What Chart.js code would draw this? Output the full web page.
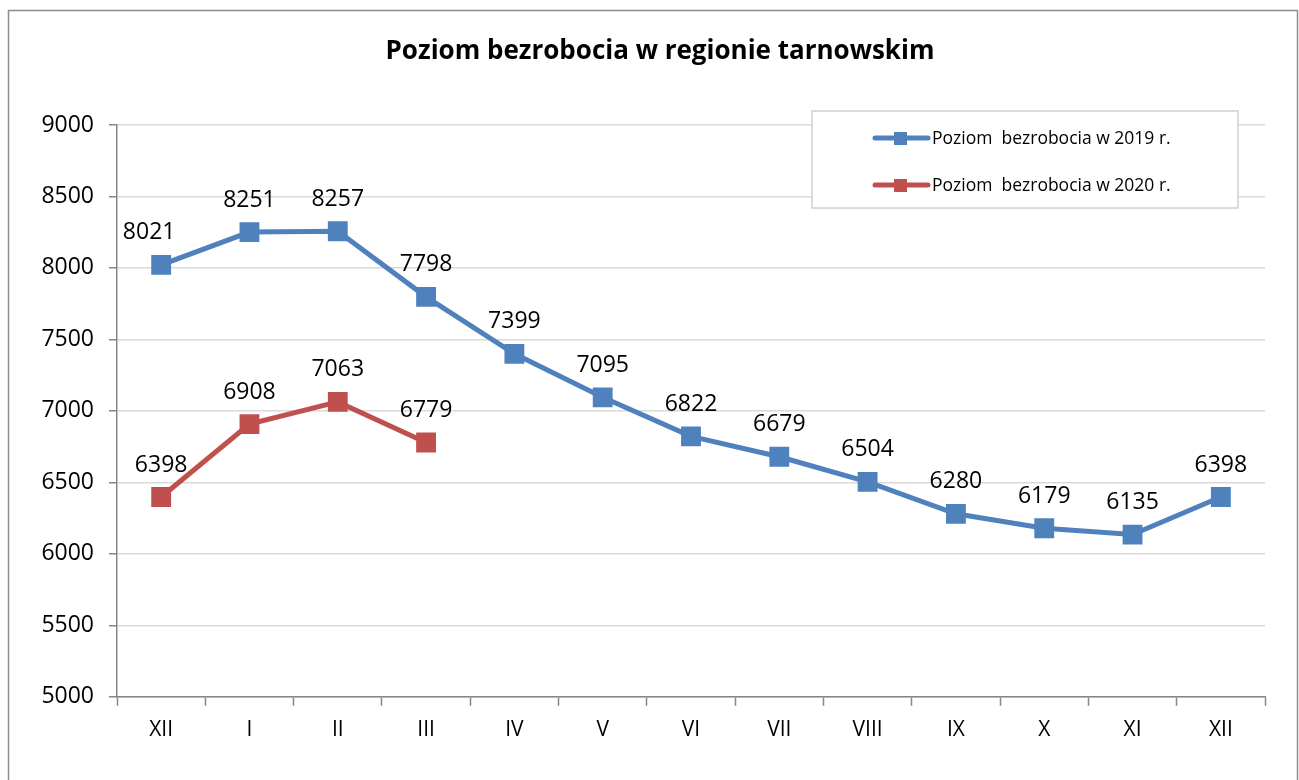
<!DOCTYPE html>
<html>
<head>
<meta charset="utf-8">
<script src="https://cdn.jsdelivr.net/npm/chart.js@4/dist/chart.umd.min.js"></script>
<style>
  html, body { margin: 0; padding: 0; background: #fff; }
  #wrap { width: 1299px; height: 780px; position: relative; }
</style>
</head>
<body>
<div id="wrap"><canvas id="chart"></canvas></div>
<script>
const months = ['XII', 'I', 'II', 'III', 'IV', 'V', 'VI', 'VII', 'VIII', 'IX', 'X', 'XI', 'XII'];
const level2019 = [8021, 8251, 8257, 7798, 7399, 7095, 6822, 6679, 6504, 6280, 6179, 6135, 6398];
const level2020 = [6398, 6908, 7063, 6779, null, null, null, null, null, null, null, null, null];
const seriesNames = ['Poziom  bezrobocia w 2019 r.', 'Poziom  bezrobocia w 2020 r.'];
const chartTitle = 'Poziom bezrobocia w regionie tarnowskim';
const blue = '#4F81BD';
const red = '#C0504D';
const font = "'Open Sans', 'Noto Sans', sans-serif";

// outer frame, title, value labels and the boxed legend
const extras = {
  id: 'extras',
  beforeDraw(chart) {
    const c = chart.ctx;
    c.save();
    c.fillStyle = '#fff';
    c.fillRect(0, 0, chart.width, chart.height);
    c.strokeStyle = '#8c8c8c';
    c.lineWidth = 1.5;
    c.strokeRect(8.5, 10.5, 1289, 775);
    c.fillStyle = '#000';
    c.font = 'bold 26px ' + font;
    c.textAlign = 'center';
    c.textBaseline = 'middle';
    c.fillText(chartTitle, 660, 52);
    c.restore();
  },
  afterDatasetsDraw(chart) {
    const c = chart.ctx;
    c.save();
    c.font = '23px ' + font;
    c.fillStyle = '#000';
    c.textAlign = 'center';
    c.textBaseline = 'middle';
    chart.data.datasets.forEach((ds, i) => {
      const meta = chart.getDatasetMeta(i);
      meta.data.forEach((pt, j) => {
        const v = ds.data[j];
        if (v == null) return;
        let dx = 0;
        if (i === 0 && j === 0) dx = -12;
        c.fillText(String(v), pt.x + dx, pt.y - 32);
      });
    });

    // legend box
    const bx = 812, by = 111, bw = 426, bh = 97;
    c.fillStyle = '#fff';
    c.fillRect(bx, by, bw, bh);
    c.strokeStyle = '#d0d0d0';
    c.lineWidth = 1.5;
    c.strokeRect(bx, by, bw, bh);
    c.font = '17.5px ' + font;
    c.textAlign = 'left';
    chart.data.datasets.forEach((ds, i) => {
      const y = by + 27 + i * 47;
      c.strokeStyle = ds.borderColor;
      c.lineWidth = 5;
      c.lineCap = 'round';
      c.beginPath();
      c.moveTo(875, y);
      c.lineTo(928, y);
      c.stroke();
      c.fillStyle = ds.borderColor;
      c.fillRect(894, y - 6, 13, 13);
      c.fillStyle = '#000';
      c.fillText(ds.label, 932, y + 1);
    });
    c.restore();
  }
};

new Chart(document.getElementById('chart'), {
  type: 'line',
  data: {
    labels: months,
    datasets: [
      {
        label: seriesNames[0],
        data: level2019,
        borderColor: blue,
        backgroundColor: blue,
        borderWidth: 5,
        pointStyle: 'rect',
        pointRadius: 10.5,
        pointHoverRadius: 10.5,
        tension: 0
      },
      {
        label: seriesNames[1],
        data: level2020,
        borderColor: red,
        backgroundColor: red,
        borderWidth: 5,
        pointStyle: 'rect',
        pointRadius: 10.5,
        pointHoverRadius: 10.5,
        tension: 0
      }
    ]
  },
  options: {
    responsive: true,
    maintainAspectRatio: false,
    animation: false,
    layout: { padding: { left: 12, right: 34, top: 125, bottom: 25 } },
    plugins: {
      legend: { display: false },
      tooltip: { enabled: false },
      title: { display: false }
    },
    scales: {
      x: {
        offset: true,
        grid: { offset: true, drawOnChartArea: false, color: '#868686', tickLength: 9, tickWidth: 1.5 },
        border: { color: '#868686', width: 1.5 },
        ticks: { color: '#000', font: { family: font, size: 21 }, padding: 12 }
      },
      y: {
        min: 5000,
        max: 9000,
        ticks: {
          stepSize: 500,
          color: '#000',
          font: { family: font, size: 23 },
          padding: 15,
          callback: v => String(v)
        },
        grid: { color: '#d9d9d9', lineWidth: 1.5, tickLength: 8, tickColor: '#868686' },
        border: { color: '#868686', width: 1.5 },
        afterFit(scale) { scale.width = 105; }
      }
    }
  },
  plugins: [extras]
});
</script>
</body>
</html>
